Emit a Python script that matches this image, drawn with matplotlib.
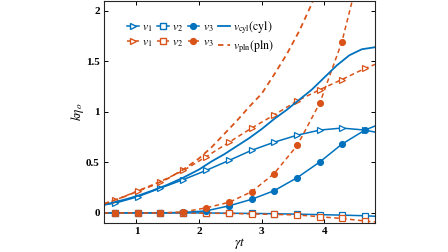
import matplotlib

matplotlib.use("Agg")
import matplotlib.pyplot as plt
from matplotlib.lines import Line2D
import numpy as np

plt.rcParams.update(
    {
        "font.family": "serif",
        "font.serif": ["Liberation Serif", "DejaVu Serif"],
        "mathtext.fontset": "stix",
        "font.size": 8,
    }
)

BLUE = "#0072BD"
ORANGE = "#D95319"

# ---------- data ----------
# sampled times; first and last entries are the line ends, markers sit in between
gt = [0.48, 0.655, 1.02, 1.38, 1.75, 2.11, 2.48, 2.84, 3.2, 3.57, 3.93, 4.28, 4.65, 4.81]

cyl_v1 = [0.08, 0.096, 0.16, 0.245, 0.33, 0.42, 0.52, 0.62, 0.70, 0.77, 0.82, 0.84, 0.82, 0.80]
cyl_v2 = [0.0, 0.0, 0.0, 0.0, 0.0, 0.0, -0.003, -0.005, -0.008, -0.012, -0.017, -0.022, -0.028, -0.033]
cyl_v3 = [0.0, 0.0, 0.0, 0.0, 0.005, 0.02, 0.07, 0.135, 0.22, 0.35, 0.505, 0.68, 0.82, 0.86]

pln_v1 = [0.09, 0.125, 0.218, 0.31, 0.42, 0.555, 0.70, 0.84, 0.97, 1.11, 1.22, 1.32, 1.43, 1.47]
pln_v2 = [0.0, 0.0, 0.0, 0.0, 0.0, -0.003, -0.005, -0.01, -0.015, -0.02, -0.038, -0.055, -0.08, -0.09]
pln_v3 = [0.0, 0.0, 0.0, 0.0, 0.01, 0.05, 0.105, 0.21, 0.39, 0.67, 1.09, 1.69, 2.6, 3.0]

# growth-rate curves
t_cyl = [0.48, 0.8, 1.0, 1.25, 1.5, 1.75, 2.0, 2.2, 2.4, 2.6, 2.8, 3.0, 3.2, 3.4,
         3.6, 3.8, 4.0, 4.2, 4.4, 4.6, 4.81]
v_cyl = [0.08, 0.13, 0.165, 0.22, 0.28, 0.35, 0.43, 0.51, 0.58, 0.66, 0.74, 0.83, 0.93, 1.02,
         1.12, 1.22, 1.34, 1.46, 1.56, 1.62, 1.64]
t_pln = [0.48, 0.8, 1.0, 1.25, 1.5, 1.75, 2.0, 2.2, 2.4, 2.6, 2.8, 3.0, 3.2, 3.4, 3.6, 3.8, 3.9]
v_pln = [0.09, 0.16, 0.21, 0.27, 0.34, 0.43, 0.54, 0.65, 0.78, 0.91, 1.05, 1.18, 1.37, 1.57,
         1.80, 2.07, 2.22]

# ---------- figure ----------
fig = plt.figure(figsize=(4.48, 2.52), dpi=100)
ax = fig.add_axes([0.232, 0.115, 0.605, 0.882])

mk = dict(markersize=4.2, markeredgewidth=0.9, markevery=slice(1, -1))
lw = 1.1
dash = (0, (3, 2.2))

ax.plot(gt, cyl_v2, color=BLUE, lw=lw, marker="s", mfc="white", **mk)
ax.plot(gt, pln_v2, color=ORANGE, lw=lw, ls=dash, marker="s", mfc="white", **mk)
ax.plot(gt, cyl_v1, color=BLUE, lw=lw, marker=">", mfc="white", **mk)
ax.plot(gt, pln_v1, color=ORANGE, lw=lw, ls=dash, marker=">", mfc="white", **mk)
ax.plot(gt, cyl_v3, color=BLUE, lw=lw, marker="o", **mk)
ax.plot(gt, pln_v3, color=ORANGE, lw=lw, ls=dash, marker="o", **mk)
ax.plot(t_cyl, v_cyl, color=BLUE, lw=1.3)
ax.plot(t_pln, v_pln, color=ORANGE, lw=1.3, ls=dash)

ax.set_xlim(0.48, 4.81)
ax.set_ylim(-0.1, 2.1)
ax.set_xticks([1, 2, 3, 4])
ax.set_yticks([0, 0.5, 1, 1.5, 2])
ax.set_xticklabels(["1", "2", "3", "4"], fontweight="bold")
ax.set_yticklabels(["0", "0.5", "1", "1.5", "2"], fontweight="bold")
ax.tick_params(direction="in", top=True, right=True, length=3, width=0.7, pad=3)
for s in ax.spines.values():
    s.set_linewidth(0.8)
    s.set_color("#262626")

ax.set_xlabel(r"$\gamma t$", fontsize=9.5, labelpad=0)
ax.set_ylabel(r"$k\eta_o$", fontsize=9.5, labelpad=0)

handles = [
    Line2D([], [], color=BLUE, lw=lw, marker=">", mfc="white", markersize=4.2, label=r"$v_1$"),
    Line2D([], [], color=ORANGE, lw=lw, ls=dash, marker=">", mfc="white", markersize=4.2, label=r"$v_1$"),
    Line2D([], [], color=BLUE, lw=lw, marker="s", mfc="white", markersize=4.2, label=r"$v_2$"),
    Line2D([], [], color=ORANGE, lw=lw, ls=dash, marker="s", mfc="white", markersize=4.2, label=r"$v_2$"),
    Line2D([], [], color=BLUE, lw=lw, marker="o", markersize=4.2, label=r"$v_3$"),
    Line2D([], [], color=ORANGE, lw=lw, ls=dash, marker="o", markersize=4.2, label=r"$v_3$"),
    Line2D([], [], color=BLUE, lw=1.3, label=r"$v_{\mathrm{cyl}}(\mathrm{cyl})$"),
    Line2D([], [], color=ORANGE, lw=1.3, ls=dash, label=r"$v_{\mathrm{pln}}(\mathrm{pln})$"),
]
ax.legend(
    handles=handles,
    ncol=4,
    loc="upper left",
    bbox_to_anchor=(0.085, 0.915),
    frameon=False,
    fontsize=8.5,
    handlelength=1.0,
    handletextpad=0.3,
    columnspacing=0.35,
    labelspacing=0.2,
    borderpad=0.0,
    borderaxespad=0.0,
)

fig.savefig("out.png", dpi=100)
